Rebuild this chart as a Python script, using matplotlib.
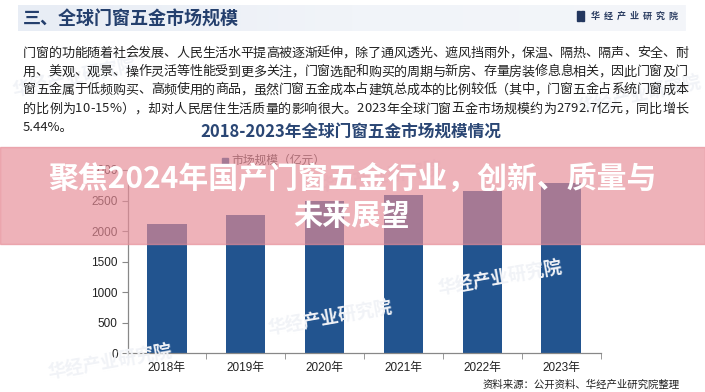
import numpy as np
import matplotlib
matplotlib.use("Agg")
import matplotlib.pyplot as plt
from matplotlib.patches import Rectangle

plt.rcParams['font.family'] = ['Noto Sans CJK SC', 'DejaVu Sans']

# data
years = ["2018年", "2019年", "2020年", "2021年", "2022年", "2023年"]
market_size = [2115, 2265, 2490, 2590, 2649, 2792.7]
y_ticks = [0, 500, 1000, 1500, 2000, 2500, 3000]

header_title = "三、全球门窗五金市场规模"
brand = "华经产业研究院"
paragraph = [
    "门窗的功能随着社会发展、人民生活水平提高被逐渐延伸，除了通风透光、遮风挡雨外，保温、隔热、隔声、安全、耐",
    "用、美观、观景、操作灵活等性能受到更多关注，门窗选配和购买的周期与新房、存量房装修息息相关，因此门窗及门",
    "窗五金属于低频购买、高频使用的商品，虽然门窗五金成本占建筑总成本的比例较低（其中，门窗五金占系统门窗成本",
    "的比例为10-15%），却对人民居住生活质量的影响很大。2023年全球门窗五金市场规模约为2792.7亿元，同比增长",
    "5.44%。",
]
chart_title = "2018-2023年全球门窗五金市场规模情况"
legend_label = "市场规模（亿元）"
source = "资料来源：公开资料、华经产业研究院整理"
banner = ["聚焦2024年国产门窗五金行业，创新、质量与", "未来展望"]

W, H = 705, 392
BLUE = "#22548f"
NAVY = "#2a4674"

fig = plt.figure(figsize=(W / 100, H / 100), dpi=100)
fig.patch.set_facecolor("white")


def fx(px):
    return px / W


def fy(py):
    return 1 - py / H


# faint watermarks
for (x, y, r) in [(75, 78, 12), (110, 362, 10), (330, 318, 10), (500, 278, 10), (640, 95, 12), (380, 178, 8)]:
    fig.text(fx(x), fy(y), brand, fontsize=13, color="#f1f3f7", rotation=r,
             ha="center", va="center", fontweight="bold", zorder=0)

# header band with gradient
hax = fig.add_axes([fx(18), fy(31), fx(668), 26 / H])
grad = np.linspace(0, 1, 256).reshape(1, -1)
cmap = matplotlib.colors.LinearSegmentedColormap.from_list("hdr", ["#e8edf5", "#f1f4f9", "#f4f6fa"])
hax.imshow(grad, aspect="auto", cmap=cmap, extent=[0, 1, 0, 1])
hax.set_axis_off()
fig.text(fx(23), fy(19), header_title, fontsize=13, fontweight="bold", color="#243f6d",
         ha="left", va="center")
fig.patches.append(Rectangle((fx(577), fy(21)), fx(3), 10 / H, transform=fig.transFigure,
                             color="#23375f", zorder=3))
fig.patches.append(Rectangle((fx(581), fy(21)), fx(3), 10 / H, transform=fig.transFigure,
                             color="#23375f", zorder=3))
fig.text(fx(591), fy(16), "  ".join(brand), fontsize=6.5, fontweight="bold", color="#2d3f63",
         ha="left", va="center")

# paragraph, justified lines
renderer = fig.canvas.get_renderer()
left_px, right_px = 23, 688
line_y = [53, 72, 90, 109, 127]
for i, line in enumerate(paragraph):
    if i < len(paragraph) - 1:
        widths = []
        for ch in line:
            t = fig.text(0, 0, ch, fontsize=9.4)
            widths.append(t.get_window_extent(renderer).width)
            t.remove()
        gap = (right_px - left_px - sum(widths)) / (len(line) - 1)
        x = left_px
        for ch, w in zip(line, widths):
            fig.text(fx(x), fy(line_y[i]), ch, fontsize=9.4, color="#222222", ha="left", va="center")
            x += w + gap
    else:
        fig.text(fx(left_px), fy(line_y[i]), line, fontsize=9.4, color="#222222",
                 ha="left", va="center")

fig.text(fx(351), fy(133), chart_title, fontsize=12, fontweight="bold", color=NAVY,
         ha="center", va="center")

# bar chart
ax = fig.add_axes([fx(127.5), fy(353.3), fx(473), 183.3 / H])
pos = np.arange(len(years))
ax.bar(pos, market_size, width=0.5, color=BLUE, zorder=2)
ax.set_xlim(-0.5, len(years) - 0.5)
ax.set_ylim(0, 3000)
ax.set_yticks(y_ticks)
ax.set_yticklabels([str(v) for v in y_ticks], family=["Liberation Sans", "Noto Sans CJK SC"],
                   fontsize=8.5, color="#222222")
ax.set_xticks(pos)
ax.set_xticklabels(years, family=["Liberation Sans", "Noto Sans CJK SC"], fontsize=8.5,
                   color="#222222")
ax.set_xticks(np.arange(-0.5, len(years)), minor=True)
ax.tick_params(axis="x", which="major", length=0, pad=6)
ax.tick_params(axis="x", which="minor", length=4, color="#888888", direction="out")
ax.tick_params(axis="y", length=4, color="#888888", direction="out", pad=3)
for s in ["top", "right"]:
    ax.spines[s].set_visible(False)
for s in ["left", "bottom"]:
    ax.spines[s].set_color("#888888")
    ax.spines[s].set_linewidth(0.9)
ax.set_facecolor("none")

# legend
fig.patches.append(Rectangle((fx(222), fy(164)), fx(6), 6 / H, transform=fig.transFigure,
                             color=BLUE, zorder=3))
fig.text(fx(231), fy(160), legend_label, fontsize=8.5, color="#333333", ha="left", va="center")

fig.text(fx(680), fy(385), source, fontsize=7.5, color="#222222", ha="right", va="center")

# pink banner overlay
fig.patches.append(Rectangle((0, fy(244)), 1, 97 / H, transform=fig.transFigure,
                             color=(231 / 255, 140 / 255, 151 / 255), alpha=0.67, zorder=10))
fig.text(fx(352), fy(180), banner[0], fontsize=21.5, fontweight="bold", color="white",
         ha="center", va="center", zorder=11)
fig.text(fx(352), fy(216), banner[1], fontsize=21, fontweight="bold", color="white",
         ha="center", va="center", zorder=11)

fig.savefig("out.png", dpi=100)
